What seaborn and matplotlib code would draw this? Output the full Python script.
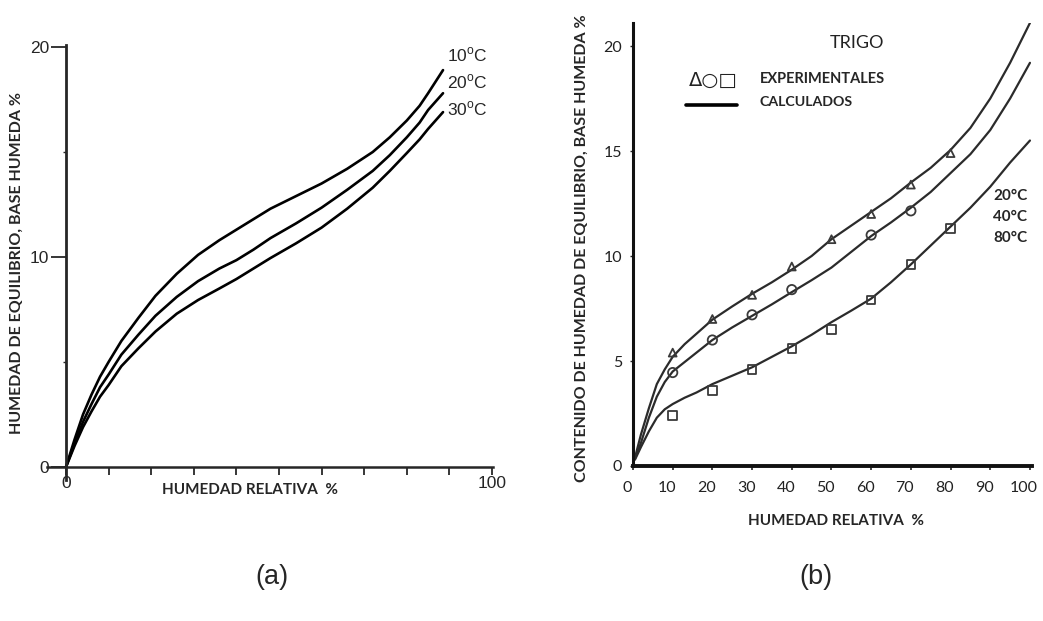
import matplotlib
matplotlib.use("Agg")
import matplotlib.pyplot as plt
import matplotlib.transforms as mtransforms
import seaborn as sns

# --- (a) isotermas, humedad relativa vs humedad de equilibrio ---
hr_a = [0, 2, 4, 6, 8, 10, 13, 17, 21, 26, 31, 36, 40, 44, 48, 54, 60, 66, 72, 76, 80, 83, 85, 88.5]
eq_10c = [0, 1.3, 2.5, 3.45, 4.3, 5.0, 6.0, 7.1, 8.15, 9.2, 10.1, 10.8, 11.3, 11.8, 12.3, 12.9,
          13.5, 14.2, 15.0, 15.7, 16.5, 17.2, 17.8, 18.9]
eq_20c = [0, 1.1, 2.15, 3.0, 3.8, 4.4, 5.35, 6.3, 7.2, 8.1, 8.85, 9.45, 9.85, 10.35, 10.9, 11.6,
          12.35, 13.2, 14.1, 14.85, 15.7, 16.4, 17.0, 17.8]
eq_30c = [0, 1.0, 1.9, 2.65, 3.35, 3.9, 4.8, 5.65, 6.45, 7.3, 7.95, 8.5, 8.95, 9.45, 9.95, 10.65,
          11.4, 12.3, 13.3, 14.1, 14.95, 15.6, 16.1, 16.9]
labels_a = ["10$^{\\mathrm{o}}$C", "20$^{\\mathrm{o}}$C", "30$^{\\mathrm{o}}$C"]

# --- (b) TRIGO: curvas calculadas ---
hr_b = [0.5, 2, 4, 6, 8, 10, 13, 16, 20, 25, 30, 35, 40, 45, 50, 55, 60, 65, 70, 75, 80, 85, 90, 95, 100]
calc_20c = [0.4, 1.5, 2.75, 3.9, 4.6, 5.2, 5.8, 6.3, 6.97, 7.6, 8.2, 8.75, 9.35, 10.0, 10.8, 11.45,
            12.1, 12.75, 13.5, 14.2, 15.05, 16.1, 17.5, 19.2, 21.1]
calc_40c = [0.35, 1.1, 2.3, 3.3, 4.0, 4.5, 4.95, 5.4, 6.0, 6.6, 7.15, 7.7, 8.28, 8.85, 9.45, 10.2,
            10.95, 11.6, 12.3, 13.05, 13.95, 14.85, 16.0, 17.5, 19.2]
calc_80c = [0.3, 0.9, 1.65, 2.3, 2.7, 2.95, 3.25, 3.5, 3.9, 4.3, 4.7, 5.2, 5.7, 6.25, 6.85, 7.4,
            7.97, 8.75, 9.6, 10.5, 11.4, 12.3, 13.3, 14.45, 15.5]

# --- (b) puntos experimentales ---
hr_exp = [10, 20, 30, 40, 50, 60, 70, 80]
exp_20c = [5.4, 7.0, 8.15, 9.5, 10.8, 12.0, 13.4, 14.9]
hr_exp_40 = [10, 20, 30, 40, 60, 70]
exp_40c = [4.45, 6.0, 7.2, 8.4, 11.0, 12.15]
exp_80c = [2.4, 3.6, 4.6, 5.6, 6.5, 7.9, 9.6, 11.3]
labels_b = ["20°C", "40°C", "80°C"]

sns.set_style("white")
plt.rcParams['font.family'] = ['Liberation Sans', 'DejaVu Sans']
plt.rcParams['mathtext.fontset'] = 'custom'
plt.rcParams['mathtext.rm'] = 'Liberation Sans'

W, H = 1043, 621
fig = plt.figure(figsize=(W / 100, H / 100), dpi=100)

# ================= (a) =================
ax1 = fig.add_axes([0.04487, 0.2277, 0.4281, 0.7000])
for ys in (eq_10c, eq_20c, eq_30c):
    sns.lineplot(x=hr_a, y=ys, ax=ax1, color="black", linewidth=1.9, estimator=None, sort=False)
ax1.set_xlim(-4.5, 100.3)
ax1.set_ylim(-0.6, 20.1)
for s in ("top", "right"):
    ax1.spines[s].set_visible(False)
ax1.spines["left"].set_position(("data", 0))
ax1.spines["bottom"].set_position(("data", 0))
ax1.spines["left"].set_linewidth(2.0)
ax1.spines["bottom"].set_linewidth(1.8)
ax1.set_xticks(range(0, 101, 10))
ax1.set_xticklabels(["0"] + [""] * 9 + ["100"])
ax1.set_yticks([0, 10, 20])
ax1.set_yticks([5, 15], minor=True)
ax1.tick_params(axis="x", bottom=True, direction="out", length=6, width=1.3, pad=0.5,
                labelsize=12.5)
ax1.tick_params(axis="y", left=True, direction="out", length=11, width=1.3, pad=1,
                labelsize=12.5)
ax1.tick_params(axis="y", which="minor", left=True, direction="out", length=2, width=1.0)
ax1.set_xlabel("")
ax1.set_ylabel("")
for lab, yy in zip(labels_a, (55, 82, 109)):
    fig.text(447 / W, 1 - yy / H, lab, fontsize=12.5, va="center", ha="left")

fig.text(250 / W, 1 - 490 / H, "HUMEDAD RELATIVA  %", family="Lato", weight="bold",
         fontsize=11, ha="center", va="center")
fig.text(17 / W, 1 - 263 / H, "HUMEDAD DE EQUILIBRIO, BASE HUMEDA %", family="Lato",
         weight="bold", fontsize=11.5, rotation=90, ha="center", va="center")

# ================= (b) =================
ax2 = fig.add_axes([0.6069, 0.2496, 0.3825, 0.7135])
line_col = "#2b2b2b"
for ys in (calc_20c, calc_40c, calc_80c):
    sns.lineplot(x=hr_b, y=ys, ax=ax2, color=line_col, linewidth=1.6, estimator=None, sort=False)
mk = dict(ax=ax2, facecolors="none", edgecolors="#3a3a3a", linewidths=1.3, zorder=3, legend=False)
sns.scatterplot(x=hr_exp, y=exp_20c, marker="^", s=32, **mk)
sns.scatterplot(x=hr_exp_40, y=exp_40c, marker="o", s=45, **mk)
sns.scatterplot(x=hr_exp, y=exp_80c, marker="s", s=38, **mk)

ax2.set_xlim(0, 100.5)
ax2.set_ylim(0, 21.1)
for s in ("top", "right"):
    ax2.spines[s].set_visible(False)
ax2.spines["left"].set_linewidth(2.2)
ax2.spines["bottom"].set_linewidth(2.8)
ax2.spines["left"].set_color("#111111")
ax2.spines["bottom"].set_color("#111111")
ax2.set_xticks(range(0, 101, 10))
ax2.set_yticks([0, 5, 10, 15, 20])
ax2.tick_params(axis="x", bottom=True, direction="out", length=3, width=1.2, pad=8, labelsize=11.5,
                labelfontfamily="Lato", labelcolor="#222222")
ax2.tick_params(axis="y", left=True, direction="out", length=2, width=1.0, pad=6, labelsize=11.5,
                labelfontfamily="Lato", labelcolor="#222222")
ax2.set_xlabel("")
ax2.set_ylabel("")
# las etiquetas del eje x van un poco a la izquierda, como en el original
shift = mtransforms.ScaledTranslation(-6 / 100, 0, fig.dpi_scale_trans)
for t in ax2.get_xticklabels():
    t.set_transform(t.get_transform() + shift)

fig.text(857 / W, 1 - 43 / H, "TRIGO", family="Lato", fontsize=13, ha="center", va="center",
         color="#222222")
fig.text(713 / W, 1 - 80 / H, "Δ○□", family=["DejaVu Sans"], fontsize=14, ha="center",
         va="center", color="#222222")
fig.add_artist(plt.Line2D([686 / W, 737 / W], [1 - 105 / H, 1 - 105 / H],
                          color="black", linewidth=2.6))
fig.text(760 / W, 1 - 79 / H, "EXPERIMENTALES", family="Lato", weight="bold", fontsize=10.5,
         ha="left", va="center")
fig.text(760 / W, 1 - 102 / H, "CALCULADOS", family="Lato", weight="bold", fontsize=10.2,
         ha="left", va="center")
for lab, yy in zip(labels_b, (196, 217, 238)):
    fig.text(993 / W, 1 - yy / H, lab, family="Lato", weight="bold", fontsize=11,
             ha="left", va="center")

fig.text(836 / W, 1 - 521 / H, "HUMEDAD RELATIVA  %", family="Lato", weight="bold",
         fontsize=11, ha="center", va="center")
fig.text(582 / W, 1 - 248 / H, "CONTENIDO DE HUMEDAD DE EQUILIBRIO, BASE HUMEDA %",
         family="Lato", weight="bold", fontsize=11.5, rotation=90, ha="center", va="center")

# --- leyendas de panel ---
fig.text(272 / W, 1 - 577 / H, "(a)", fontsize=19.5, ha="center", va="center")
fig.text(816 / W, 1 - 577 / H, "(b)", fontsize=19.5, ha="center", va="center")

fig.savefig("out.png", dpi=100, facecolor="white")
